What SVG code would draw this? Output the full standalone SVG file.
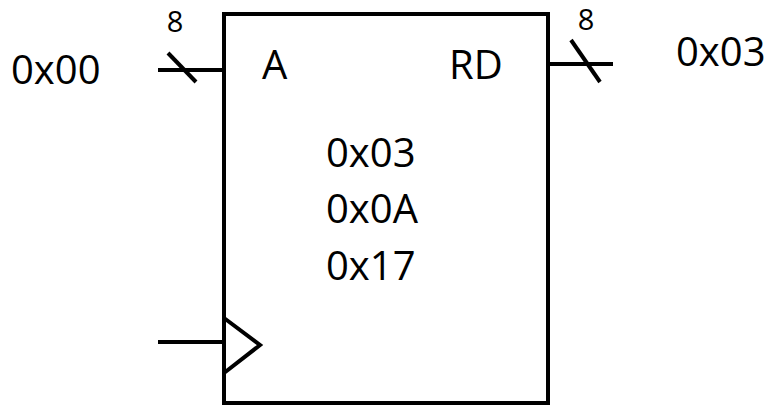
<svg xmlns="http://www.w3.org/2000/svg" width="772" height="406" viewBox="0 0 772 406">
  <style>
    .wire { stroke: #000; stroke-width: 4; fill: none; stroke-linecap: butt; }
    .body { stroke: #000; stroke-width: 4; fill: #fff; }
    .lbl { font-family: "Open Sans", "Liberation Sans", sans-serif; font-size: 40px; fill: #000; }
    .bus { font-family: "Open Sans", "Liberation Sans", sans-serif; font-size: 29px; fill: #000; text-anchor: middle; }
  </style>
  <rect width="772" height="406" fill="#fff"/>

  <!-- memory block -->
  <g id="memory">
    <rect class="body" x="224" y="14" width="324" height="389"/>
    <text class="lbl" x="262" y="79">A</text>
    <text class="lbl" x="449" y="79">RD</text>
    <text class="lbl" x="326" y="167">0x03</text>
    <text class="lbl" x="326" y="223">0x0A</text>
    <text class="lbl" x="326" y="280">0x17</text>
    <!-- clock input triangle -->
    <polyline class="wire" points="224,318 260,345 224,373"/>
  </g>

  <!-- values on the ports -->
  <g id="addr-value">
    <text class="lbl" x="11" y="84">0x00</text>
  </g>
  <g id="data-value">
    <text class="lbl" x="676" y="66">0x03</text>
  </g>

  <!-- wires, bus slashes and widths -->
  <g id="connectors">
    <line class="wire" x1="158" y1="70" x2="224" y2="70"/>
    <line class="wire" x1="168" y1="53" x2="196" y2="82"/>
    <text class="bus" x="175" y="32">8</text>

    <line class="wire" x1="548" y1="64" x2="613" y2="64"/>
    <line class="wire" x1="571" y1="40" x2="600" y2="82"/>
    <text class="bus" x="586" y="30">8</text>

    <line class="wire" x1="158" y1="342" x2="224" y2="342"/>
  </g>
</svg>
